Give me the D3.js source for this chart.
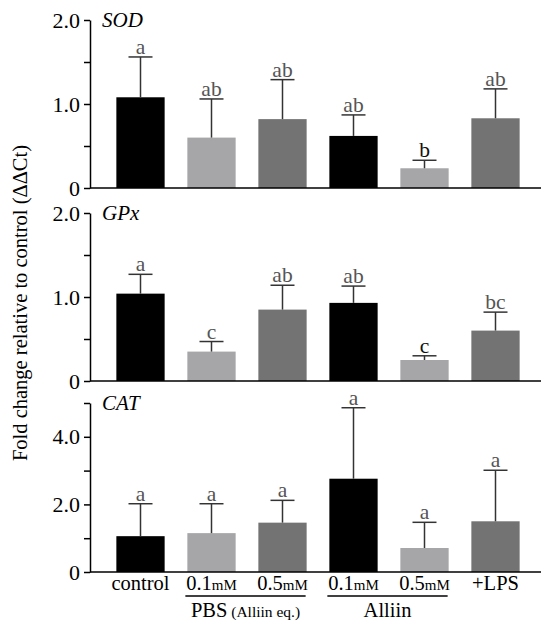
<!DOCTYPE html>
<html><head><meta charset="utf-8">
<script src="https://cdn.jsdelivr.net/npm/d3@7"></script>
<style>body{margin:0;background:#fff}svg{display:block}svg text{font-family:"Liberation Serif","Times New Roman",Times,"DejaVu Serif",serif}</style>
</head><body>
<svg id="c" width="550" height="634"></svg>
<script>
const categories = ["control","PBS 0.1mM","PBS 0.5mM","Alliin 0.1mM","Alliin 0.5mM","+LPS"];
const barColors = ["#000000","#a6a6a8","#737373","#000000","#a6a6a8","#737373"];
const tickMain = ["control","0.1","0.5","0.1","0.5","+LPS"];
const tickUnit = ["","mM","mM","mM","mM",""];

const sodMean = [1.08, 0.60, 0.82, 0.62, 0.235, 0.83];
const sodSD   = [0.48, 0.46, 0.47, 0.25, 0.095, 0.35];
const sodLetters = ["a","ab","ab","ab","b","ab"];

const gpxMean = [1.04, 0.35, 0.85, 0.93, 0.25, 0.60];
const gpxSD   = [0.23, 0.12, 0.29, 0.20, 0.05, 0.22];
const gpxLetters = ["a","c","ab","ab","c","bc"];

const catMean = [1.06, 1.15, 1.46, 2.76, 0.71, 1.50];
const catSD   = [0.96, 0.87, 0.66, 2.10, 0.76, 1.51];
const catLetters = ["a","a","a","a","a","a"];

const sodTicks = [0, 0.5, 1, 1.5, 2];
const gpxTicks = [0, 0.5, 1, 1.5, 2];
const catTicks = [0, 1, 2, 3, 4, 5];

const FONT = '"Liberation Serif", "Times New Roman", "DejaVu Serif", serif';
const svg = d3.select("#c");
const axisX = 90, plotRight = 541;
const x = d3.scaleBand().domain(categories).range([105, 531]).paddingInner(0.32).paddingOuter(0.16);

const panels = [
  {name:"SOD", mean:sodMean, sd:sodSD, letters:sodLetters, ticks:sodTicks, max:2, top:20, bottom:188, strong:[4]},
  {name:"GPx", mean:gpxMean, sd:gpxSD, letters:gpxLetters, ticks:gpxTicks, max:2, top:213, bottom:381, strong:[4]},
  {name:"CAT", mean:catMean, sd:catSD, letters:catLetters, ticks:catTicks, max:5, top:403, bottom:572, strong:[]}
];

panels.forEach(p => {
  const y = d3.scaleLinear().domain([0, p.max]).range([p.bottom, p.top]);
  const g = svg.append("g");
  g.selectAll("rect.bar").data(categories).join("rect")
    .attr("x", d => x(d)).attr("width", x.bandwidth())
    .attr("y", (d,i) => y(p.mean[i])).attr("height", (d,i) => y(0) - y(p.mean[i]))
    .attr("fill", (d,i) => barColors[i]);
  const cx = d => x(d) + x.bandwidth()/2;
  g.selectAll("line.ev").data(categories).join("line")
    .attr("x1", cx).attr("x2", cx)
    .attr("y1", (d,i) => y(p.mean[i])).attr("y2", (d,i) => y(p.mean[i] + p.sd[i]))
    .attr("stroke", "#333").attr("stroke-width", 1.5);
  g.selectAll("line.eh").data(categories).join("line")
    .attr("x1", d => cx(d) - 12).attr("x2", d => cx(d) + 12)
    .attr("y1", (d,i) => y(p.mean[i] + p.sd[i])).attr("y2", (d,i) => y(p.mean[i] + p.sd[i]))
    .attr("stroke", "#333").attr("stroke-width", 1.5);
  g.selectAll("text.lt").data(categories).join("text")
    .attr("x", cx).attr("y", (d,i) => y(p.mean[i] + p.sd[i]) - 3)
    .attr("text-anchor", "middle").attr("font-size", 21.5).attr("font-family", FONT)
    .attr("fill", (d,i) => p.strong.includes(i) ? "#111" : "#555")
    .text((d,i) => p.letters[i]);
  const ax = d3.axisLeft(y).tickValues(p.ticks).tickSizeInner(6).tickSizeOuter(0)
    .tickFormat(d => (p.max === 2 ? (d % 1 === 0) : (d % 2 === 0)) ? (d === 0 ? "0" : d.toFixed(1)) : "");
  const ya = g.append("g").attr("transform", `translate(${axisX},0)`).call(ax).attr("font-family", FONT);
  ya.selectAll("path, line").attr("stroke", "#000").attr("stroke-width", 1.5);
  ya.selectAll("text").attr("font-size", 22).attr("font-family", FONT).attr("fill", "#000").attr("dx", "-1");
  g.append("line").attr("x1", axisX).attr("x2", plotRight).attr("y1", y(0)).attr("y2", y(0))
    .attr("stroke", "#000").attr("stroke-width", 1.5);
  g.append("text").attr("x", 102).attr("y", p.top + 7).attr("font-size", 21).attr("font-family", FONT)
    .attr("font-style", "italic").text(p.name);
});

const lastBottom = 572;
const xl = svg.append("g");
xl.selectAll("text").data(categories).join("text")
  .attr("x", d => x(d) + x.bandwidth()/2).attr("y", lastBottom + 18)
  .attr("text-anchor", "middle").attr("font-size", 20.5).attr("font-family", FONT)
  .each(function(d,i){
    const t = d3.select(this);
    t.append("tspan").text(tickMain[i]);
    if (tickUnit[i]) t.append("tspan").attr("font-size", 15).text(tickUnit[i]);
  });

const groups = [
  {from:1, to:2, label:"PBS", sub:" (Alliin eq.)"},
  {from:3, to:4, label:"Alliin", sub:""}
];
groups.forEach(gr => {
  const x1 = x(categories[gr.from]) - 2, x2 = x(categories[gr.to]) + x.bandwidth() - 1;
  svg.append("line").attr("x1", x1).attr("x2", x2).attr("y1", 596).attr("y2", 596)
    .attr("stroke", "#000").attr("stroke-width", 1.3);
  const t = svg.append("text").attr("x", (x1 + x2)/2).attr("y", 617).attr("text-anchor", "middle")
    .attr("font-size", 20.5).attr("font-family", FONT);
  t.append("tspan").text(gr.label);
  if (gr.sub) t.append("tspan").attr("font-size", 15.5).text(gr.sub);
});

svg.append("text").attr("transform", "translate(27,303) rotate(-90)")
  .attr("text-anchor", "middle").attr("font-size", 20.5).attr("font-family", FONT)
  .text("Fold change relative to control (ΔΔCt)");
</script>
</body></html>
